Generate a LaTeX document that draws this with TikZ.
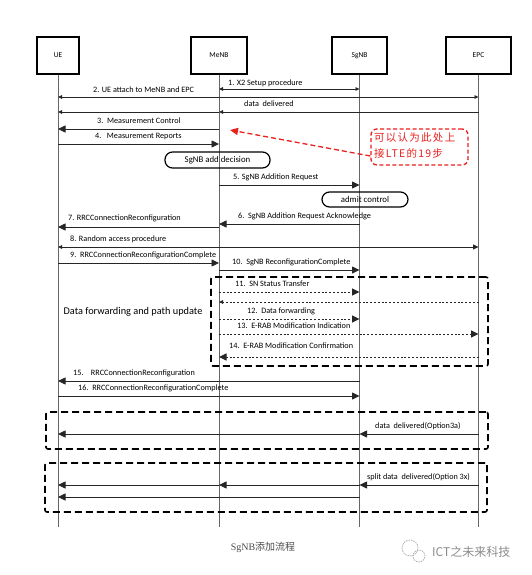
\documentclass[tikz,border=0pt]{standalone}
\usepackage{fontspec}
\setmainfont{Carlito}
\newfontfamily\cjk{Noto Sans CJK SC}
\newfontfamily\cjkred[LetterSpace=12]{Noto Sans CJK SC}
\newfontfamily\capserif{Liberation Serif}
\usetikzlibrary{arrows.meta}
\definecolor{annred}{HTML}{E8201E}
\tikzset{
  x=1pt, y=-1pt,
  bigtip/.tip={Triangle[length=7.5pt,width=7pt]},
  smtip/.tip={Triangle[length=4pt,width=3.5pt]},
  midtip/.tip={Triangle[length=5.5pt,width=5pt]},
  entity/.style={draw, line width=1.4pt, minimum width=#1, minimum height=37pt, inner sep=0pt, font=\fontsize{7.5}{8}\selectfont},
  life/.style={draw=black!60, line width=0.9pt},
  msg/.style={line width=0.8pt, draw=black!85},
  dotmsg/.style={line width=0.9pt, draw=black!85, dash pattern=on 2pt off 1.8pt},
  lbl/.style={anchor=west, inner sep=0pt, font=\fontsize{8.2}{9}\selectfont},
  grp/.style={draw, line width=1.6pt, dash pattern=on 7pt off 4pt, rounded corners=2pt},
  stadium/.style={draw, line width=1.2pt, rounded corners=7.5pt, minimum height=16pt, inner sep=0pt, font=\fontsize{8.8}{10}\selectfont},
}
\begin{document}
\begin{tikzpicture}
\useasboundingbox[fill=white] (0,0) rectangle (532,575);

% entities
\node[entity=42pt] (UE) at (58,55.5) {UE};
\node[entity=56pt] (MeNB) at (219,55.5) {MeNB};
\node[entity=55pt] (SgNB) at (359.5,55.5) {SgNB};
\node[entity=65pt] (EPC) at (478.5,55.5) {EPC};

% lifelines
\coordinate (UEend) at (UE.south |- 0,527);
\coordinate (MeNBend) at (MeNB.south |- 0,527);
\coordinate (SgNBend) at (SgNB.south |- 0,527);
\coordinate (EPCend) at (EPC.south |- 0,527);
\draw[life] (UE.south) -- (UEend);
\draw[life] (MeNB.south) -- (MeNBend);
\draw[life] (SgNB.south) -- (SgNBend);
\draw[life] (EPC.south) -- (EPCend);

% messages
\draw[msg,smtip-smtip] (MeNB |- 0,89) -- (SgNB |- 0,89);
\node[lbl] (l1) at (228,83) {1. X2 Setup procedure};

\draw[msg,smtip-smtip] (UE |- 0,97) -- (EPC |- 0,97);
\node[lbl] (l2) at (93,90) {2. UE attach to MeNB and EPC};

\draw[msg,-smtip] (EPC |- 0,112) -- (MeNB |- 0,112);
\draw[msg,-smtip] (MeNB |- 0,112) -- (UE |- 0,112);
\node[lbl] (ld) at (244,104) {data\ \ delivered};

\draw[msg,-bigtip] (MeNB |- 0,129) -- (UE |- 0,129);
\node[lbl] (l3) at (97,121) {3.\ \ Measurement Control};

\draw[msg,-bigtip] (UE |- 0,144) -- (MeNB |- 0,144);
\node[lbl] (l4) at (95,137) {4.\ \ \ Measurement Reports};

\node[stadium, minimum width=105pt] (dec) at (217.5,160) {SgNB add decision};

\draw[msg,-bigtip] (MeNB |- 0,185) -- (SgNB |- 0,185);
\node[lbl] (l5) at (233,177) {5. SgNB Addition Request};

\node[stadium, minimum width=86pt, minimum height=15pt] (adm) at (365,199.5) {admit control};

\draw[msg,-bigtip] (SgNB |- 0,224) -- (MeNB |- 0,224);
\node[lbl] (l6) at (238,216) {6.\ \ SgNB Addition Request Acknowledge};

\draw[msg,-bigtip] (MeNB |- 0,227) -- (UE |- 0,227);
\node[lbl] (l7) at (68,218) {7. RRCConnectionReconfiguration};

\draw[msg,smtip-midtip] (UE |- 0,247) -- (EPC |- 0,247);
\node[lbl] (l8) at (70,239) {8. Random access procedure};

\draw[msg,-bigtip] (UE |- 0,263) -- (MeNB |- 0,263);
\node[lbl] (l9) at (70,255) {9.\ \ RRCConnectionReconfigurationComplete};

\draw[msg,-bigtip] (MeNB |- 0,270) -- (SgNB |- 0,270);
\node[lbl] (l10) at (232,262) {10.\ \ SgNB ReconfigurationComplete};

% data forwarding group
\node[grp, minimum width=277pt, minimum height=89pt, inner sep=0pt] (g1) at (349.5,321.5) {};
\node[inner sep=0pt, font=\fontsize{10.3}{12}\selectfont] (dfp) at (133,312) {Data forwarding and path update};

\draw[dotmsg,-bigtip] (MeNB |- 0,292) -- (SgNB |- 0,292);
\node[lbl] (l11) at (235,284) {11.\ \ SN Status Transfer};

\draw[dotmsg,-smtip] (EPC |- 0,302) -- (MeNB |- 0,302);

\draw[dotmsg,-bigtip] (MeNB |- 0,319) -- (SgNB |- 0,319);
\node[lbl] (l12) at (247,311) {12.\ \ Data forwarding};

\draw[dotmsg,-bigtip] (MeNB |- 0,334) -- (EPC |- 0,334);
\node[lbl] (l13) at (237,326) {13.\ \ E-RAB Modification Indication};

\draw[dotmsg,-bigtip] (EPC |- 0,357) -- (MeNB |- 0,357);
\node[lbl] (l14) at (229,346) {14.\ \ E-RAB Modification Confirmation};

\draw[msg,-bigtip] (SgNB |- 0,381) -- (UE |- 0,381);
\node[lbl] (l15) at (73,373) {15.\ \ \ \ RRCConnectionReconfiguration};

\draw[msg,-bigtip] (UE |- 0,396) -- (SgNB |- 0,396);
\node[lbl] (l16) at (78,388) {16.\ \ RRCConnectionReconfigurationComplete};

% option 3a
\node[grp, minimum width=442pt, minimum height=37pt, inner sep=0pt] (g2) at (267,430.5) {};
\draw[msg,-bigtip] (EPC |- 0,434) -- (SgNB |- 0,434);
\draw[msg,-bigtip] (SgNB |- 0,434) -- (UE |- 0,434);
\node[lbl] (l3a) at (375,426) {data\ \ delivered(Option3a)};

% option 3x
\node[grp, minimum width=442pt, minimum height=49pt, inner sep=0pt] (g3) at (266,487.5) {};
\draw[msg,-bigtip] (EPC |- 0,485) -- (SgNB |- 0,485);
\draw[msg,-bigtip] (SgNB |- 0,485) -- (MeNB |- 0,485);
\draw[msg,-bigtip] (MeNB |- 0,485) -- (UE |- 0,485);
\draw[msg,-bigtip] (SgNB |- 0,497) -- (UE |- 0,497);
\node[lbl] (l3x) at (367,477) {split data\ \ delivered(Option 3x)};

% red annotation
\node[draw=annred, line width=1.3pt, dash pattern=on 4pt off 2.5pt, rounded corners=6pt,
      minimum width=97pt, minimum height=36pt, inner sep=0pt] (note) at (419.5,147) {};
\node[text=annred, anchor=west, inner sep=0pt, align=left,
      font=\cjkred\fontsize{10.5}{16}\selectfont] (notetxt) at (374,146) {可以认为此处上\\接LTE的19步};
\coordinate (notetail) at (note.west |- 0,156);
\coordinate (notehead) at (230,130);
\draw[annred, line width=1.3pt, dash pattern=on 5pt off 3pt, -{Triangle[length=8pt,width=7pt]}] (notetail) -- (notehead);

% caption
\node[text=black!70, inner sep=0pt, font=\fontsize{10}{12}\selectfont] (cap) at (263,547) {{\capserif SgNB}{\cjk 添加流程}};

% watermark
\node[text=black!45, anchor=west, inner sep=0pt, font=\cjk\fontsize{12}{14}\selectfont] (wm) at (432,552) {ICT之未来科技};
\draw[black!35, line width=0.7pt, dash pattern=on 1.5pt off 1pt] (410,548) circle (8pt);
\draw[black!35, line width=0.7pt, dash pattern=on 1.5pt off 1pt] (419,556) circle (6pt);
\end{tikzpicture}
\end{document}
